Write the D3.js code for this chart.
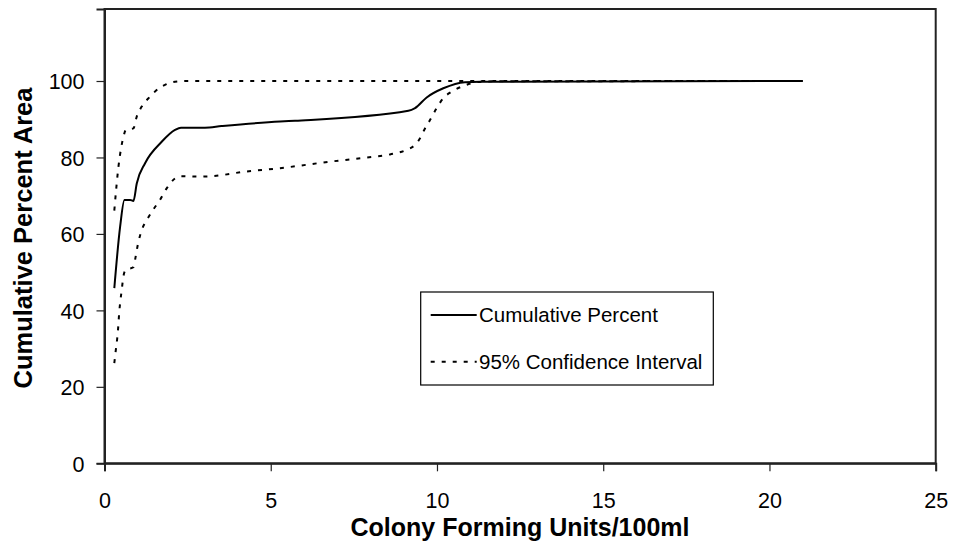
<!DOCTYPE html>
<html>
<head>
<meta charset="utf-8">
<script src="https://cdn.jsdelivr.net/npm/d3@7"></script>
<style>
  html, body { margin: 0; padding: 0; background: #fff; }
  svg { display: block; font-family: "Liberation Sans", Arial, sans-serif; }
</style>
</head>
<body>
<svg id="chart" width="953" height="542"></svg>
<script>
// ---- data ----
const cumX = [0.295, 0.47, 0.6, 0.77, 0.87, 0.97, 1.22, 1.72, 2.12, 2.3, 3.02, 3.52, 5.28, 5.73, 9.14, 9.34, 9.69, 10.19, 10.84, 11.3, 21.0];
const cumY = [45.8, 61.9, 68.9, 68.9, 68.6, 73.2, 78.5, 84.1, 87.2, 87.8, 87.8, 88.2, 89.4, 89.6, 92.2, 92.9, 95.7, 98.1, 99.7, 99.8, 100];

const upX = [0.295, 0.42, 0.57, 0.64, 0.87, 0.97, 1.12, 1.37, 1.67, 1.82, 2.12, 2.5, 21.0];
const upY = [66.1, 77.6, 85.4, 87.2, 87.6, 90.7, 93.3, 95.9, 98.3, 99.0, 99.8, 100, 100];

const loX = [0.295, 0.34, 0.385, 0.415, 0.44, 0.475, 0.52, 0.565, 0.64, 0.87, 0.94, 1.0, 1.12, 1.27, 1.47, 1.67, 1.87, 2.12, 2.3, 2.82, 3.22, 4.23, 5.28, 6.78, 7.89, 8.59, 9.09, 9.34, 9.49, 9.64, 9.79, 9.99, 10.19, 10.44, 10.79, 11.04, 11.5, 21.0];
const loY = [26.2, 29.6, 32.9, 35.9, 39.2, 42.3, 45.5, 48.7, 50.6, 51.3, 54.2, 57.1, 61.0, 63.6, 66.4, 68.9, 71.9, 74.5, 75.1, 75.0, 75.1, 76.3, 77.2, 78.9, 80.0, 80.8, 82.0, 83.3, 85.0, 87.6, 89.8, 92.9, 95.5, 97.2, 98.7, 99.4, 99.9, 100];

const xTicks = [0, 5, 10, 15, 20, 25];
const yTicks = [0, 20, 40, 60, 80, 100];
const seriesNames = ["Cumulative Percent", "95% Confidence Interval"];
const xTitle = "Colony Forming Units/100ml";
const yTitle = "Cumulative Percent Area";

// ---- layout ----
const pLeft = 104.5, pRight = 935.7, pTop = 9, pBottom = 463.3;
const svg = d3.select("#chart");

const x = d3.scaleLinear().domain([0, 25]).range([pLeft, pRight]);
const yMax = (pBottom - pTop) / ((pBottom - 81) / 100);
const y = d3.scaleLinear().domain([0, yMax]).range([pBottom, pTop]);

// plot border
svg.append("rect")
  .attr("x", pLeft).attr("y", pTop)
  .attr("width", pRight - pLeft).attr("height", pBottom - pTop)
  .attr("fill", "none").attr("stroke", "#222").attr("stroke-width", 2);

// axes
const xAxis = svg.append("g").attr("transform", `translate(0,${pBottom})`)
  .call(d3.axisBottom(x).tickValues(xTicks).tickSize(8).tickPadding(21).tickFormat(d3.format("d")));
const yAxis = svg.append("g").attr("transform", `translate(${pLeft},0)`)
  .call(d3.axisLeft(y).tickValues(yTicks).tickSize(8).tickPadding(12).tickFormat(d3.format("d")));
[xAxis, yAxis].forEach(g => {
  g.select(".domain").attr("stroke", "#222").attr("stroke-width", 2);
  g.selectAll(".tick line").attr("stroke", "#222").attr("stroke-width", 1.2);
  g.selectAll(".tick text").attr("fill", "#000").style("font-size", "21.5px")
    .style("font-family", '"Liberation Sans", Arial, sans-serif');
});
yAxis.selectAll(".tick text").attr("dy", "0.36em");

// lines
const line = d3.line().x(d => x(d[0])).y(d => y(d[1])).curve(d3.curveMonotoneX);
const zip = (a, b) => a.map((v, i) => [v, b[i]]);

svg.append("path").datum(zip(upX, upY)).attr("d", line)
  .attr("fill", "none").attr("stroke", "#000").attr("stroke-width", 2).attr("stroke-dasharray", "4,7");
svg.append("path").datum(zip(loX, loY)).attr("d", line)
  .attr("fill", "none").attr("stroke", "#000").attr("stroke-width", 2).attr("stroke-dasharray", "4,7");
svg.append("path").datum(zip(cumX, cumY)).attr("d", line)
  .attr("fill", "none").attr("stroke", "#000").attr("stroke-width", 2);

// legend
const lg = svg.append("g");
lg.append("rect").attr("x", 420.7).attr("y", 292).attr("width", 292.6).attr("height", 93)
  .attr("fill", "#fff").attr("stroke", "#000").attr("stroke-width", 1.2);
const items = [{yy: 315, dash: null}, {yy: 361.7, dash: "4,7"}];
items.forEach((it, i) => {
  lg.append("line").attr("x1", 430.7).attr("x2", 476.7).attr("y1", it.yy).attr("y2", it.yy)
    .attr("stroke", "#000").attr("stroke-width", 2).attr("stroke-dasharray", it.dash);
  lg.append("text").attr("x", 479).attr("y", it.yy).attr("dy", "0.36em")
    .style("font-size", "20.5px").text(seriesNames[i]);
});

// titles
svg.append("text").attr("x", 520).attr("y", 536).attr("text-anchor", "middle")
  .style("font-size", "25px").style("font-weight", "bold").text(xTitle);
svg.append("text").attr("transform", `translate(32,238) rotate(-90)`).attr("text-anchor", "middle")
  .style("font-size", "25.5px").style("font-weight", "bold").text(yTitle);
</script>
</body>
</html>
